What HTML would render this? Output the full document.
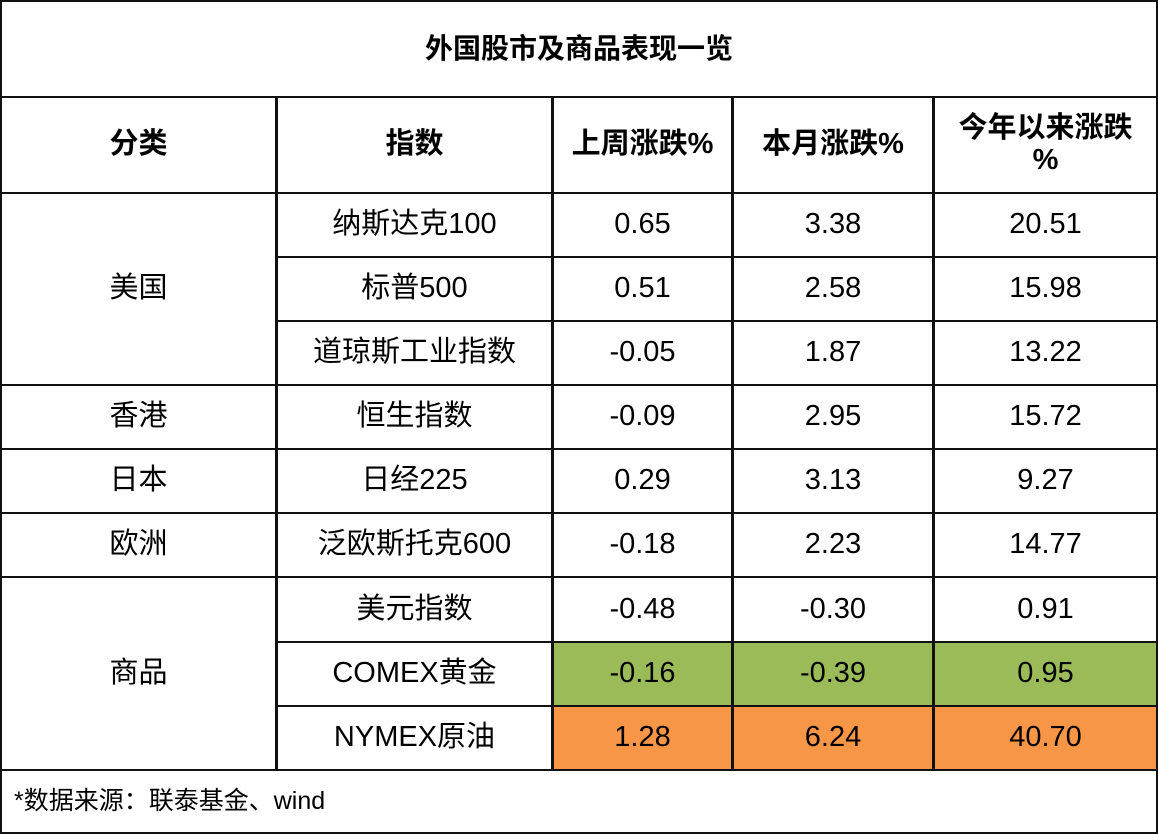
<!DOCTYPE html>
<html><head><meta charset="utf-8"><style>
body{margin:0;width:1158px;height:835px;background:#fff;overflow:hidden;font-family:"Liberation Sans","Noto Sans CJK SC",sans-serif;color:#000}
.c{position:absolute;box-sizing:border-box;border:2px solid #111;display:flex;align-items:center;justify-content:center;text-align:center;font-size:29px;line-height:1.1}
.b{font-weight:bold;font-size:29px}
.tt{font-size:28px}
.g{background:#9BBB59}.o{background:#F79646}
</style></head><body>
<div id="t"></div>
<script>
const xs=[0,276,552,732,933,1157];
const ys=[0,96,192,256,320,384,448,512,576,641,705,769,834];
const cells=[
 [0,0,0,5,1,'外国股市及商品表现一览','table-title','b tt'],
 [1,0,1,1,1,'分类','header-category','b'],
 [1,1,1,2,1,'指数','header-index','b'],
 [1,2,1,3,1,'上周涨跌%','header-week-change','b'],
 [1,3,1,4,1,'本月涨跌%','header-month-change','b'],
 [1,4,1,5,1,'今年以来涨跌<br>%','header-ytd-change','b'],
 [2,0,4,1,0,'美国','category-us',''],
 [5,0,5,1,0,'香港','category-hk',''],
 [6,0,6,1,0,'日本','category-japan',''],
 [7,0,7,1,0,'欧洲','category-europe',''],
 [8,0,10,1,0,'商品','category-commodity',''],
];
const rows=[
 ['纳斯达克100','0.65','3.38','20.51',''],
 ['标普500','0.51','2.58','15.98',''],
 ['道琼斯工业指数','-0.05','1.87','13.22',''],
 ['恒生指数','-0.09','2.95','15.72',''],
 ['日经225','0.29','3.13','9.27',''],
 ['泛欧斯托克600','-0.18','2.23','14.77',''],
 ['美元指数','-0.48','-0.30','0.91',''],
 ['COMEX黄金','-0.16','-0.39','0.95','g'],
 ['NYMEX原油','1.28','6.24','40.70','o'],
];
const names=['index-name','week-change','month-change','ytd-change'];
rows.forEach((r,i)=>{for(let j=0;j<4;j++)cells.push([2+i,1+j,2+i,2+j,0,r[j],names[j]+'-'+(i+1),j>0?r[4]:'']);});
const t=document.getElementById('t');
cells.forEach(c=>{
 const [r0,c0,r1,c1,,txt,nm,cls]=c;
 const d=document.createElement('div');
 d.className='c '+cls;
 d.style.left=xs[c0]+'px';d.style.top=ys[r0]+'px';
 d.style.width=(xs[c1]-xs[c0]+1)+'px';d.style.height=(ys[r1+1]-ys[r0]+2)+'px';
 d.innerHTML=txt;
 
 
 t.appendChild(d);
});
const f=document.createElement('div');
f.className='c';
f.style.cssText='left:0;top:769px;width:1158px;height:65px;justify-content:flex-start;padding-left:12px;font-size:25px';
f.textContent='*数据来源：联泰基金、wind';


t.appendChild(f);
</script>
</body></html>
